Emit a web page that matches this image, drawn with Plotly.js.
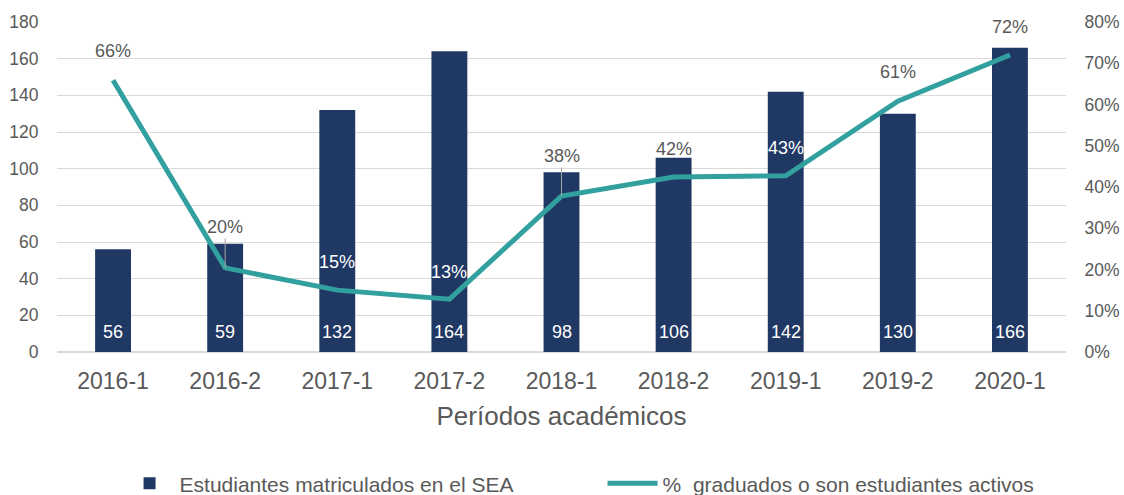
<!DOCTYPE html>
<html>
<head>
<meta charset="utf-8">
<script src="https://cdn.plot.ly/plotly-3.0.1.min.js"></script>
<style>html,body{margin:0;padding:0;background:#fff;}#chart{width:1124px;height:495px;}</style>
</head>
<body>
<div id="chart"></div>
<script>
const categories = ["2016-1","2016-2","2017-1","2017-2","2018-1","2018-2","2019-1","2019-2","2020-1"];
const enrolled = [56, 59, 132, 164, 98, 106, 142, 130, 166];
const pctActive = [0.659, 0.204, 0.150, 0.128, 0.378, 0.424, 0.427, 0.608, 0.720];
const pctLabels = ["66%","20%","15%","13%","38%","42%","43%","61%","72%"];

// label styling (not data)
const labelShift = [-29, -41, -28, -27, -40, -28, -28, -29, -28];
const labelLeader = [false, true, false, false, true, false, false, false, false];
const labelWhite = [false, false, true, true, false, false, true, false, false];

const font = "Liberation Sans, Arial, sans-serif";
const grey = "#595959";
const barColor = "#203864";
const lineColor = "#31a09e";

const traces = [
  {
    type: "bar", x: categories, y: enrolled, name: "Estudiantes matriculados en el SEA",
    marker: {color: barColor}, hoverinfo: "none"
  },
  {
    type: "scatter", mode: "lines", x: categories, y: pctActive, yaxis: "y2",
    name: "%  graduados o son estudiantes activos",
    line: {color: lineColor, width: 5}, hoverinfo: "none"
  }
];

const annotations = [];
categories.forEach((c, i) => {
  annotations.push({
    x: c, y: 0, xref: "x", yref: "y", text: String(enrolled[i]), showarrow: false,
    yshift: 20, font: {family: font, size: 18, color: "#ffffff"}
  });
  const a = {
    x: c, y: pctActive[i], xref: "x", yref: "y2", text: pctLabels[i],
    font: {family: font, size: 18, color: labelWhite[i] ? "#ffffff" : grey}
  };
  if (labelLeader[i]) {
    Object.assign(a, {showarrow: true, arrowhead: 0, arrowwidth: 1, arrowcolor: "#a6a6a6",
      ax: 0, ay: labelShift[i], standoff: 0, startstandoff: 0});
  } else {
    Object.assign(a, {showarrow: false, yshift: -labelShift[i]});
  }
  annotations.push(a);
});

const layout = {
  width: 1124, height: 495,
  margin: {l: 57, r: 58, t: 22, b: 143, autoexpand: false},
  paper_bgcolor: "#fff", plot_bgcolor: "#fff",
  font: {family: font, color: grey},
  bargap: 0.68,
  showlegend: true,
  legend: {orientation: "h", x: 0.062, xanchor: "left", y: -0.337, yanchor: "top",
    font: {family: font, size: 21, color: grey}, entrywidth: 418, entrywidthmode: "pixels",
    itemwidth: 50, tracegroupgap: 0},
  xaxis: {
    type: "category", automargin: false,
    tickfont: {family: font, size: 23, color: grey}, showgrid: false,
    showline: false, ticks: "outside", ticklen: 8, tickcolor: "rgba(0,0,0,0)",
    title: {text: "Períodos académicos", font: {family: font, size: 26, color: grey}, standoff: 14}
  },
  yaxis: {
    range: [0, 180], dtick: 20, tickfont: {family: font, size: 17.5, color: grey}, automargin: false,
    gridcolor: "#d9d9d9", gridwidth: 1, zeroline: true, zerolinecolor: "#d9d9d9", zerolinewidth: 1.5,
    showline: false, ticks: "outside", ticklen: 14, tickcolor: "rgba(0,0,0,0)", fixedrange: true
  },
  yaxis2: {
    range: [0, 0.8], dtick: 0.1, tickformat: ".0%", overlaying: "y", side: "right", automargin: false,
    tickfont: {family: font, size: 17.5, color: grey}, showgrid: false, zeroline: false,
    showline: false, ticks: "outside", ticklen: 14, tickcolor: "rgba(0,0,0,0)"
  },
  annotations: annotations
};

Plotly.newPlot("chart", traces, layout, {displayModeBar: false, staticPlot: true});
</script>
</body>
</html>
